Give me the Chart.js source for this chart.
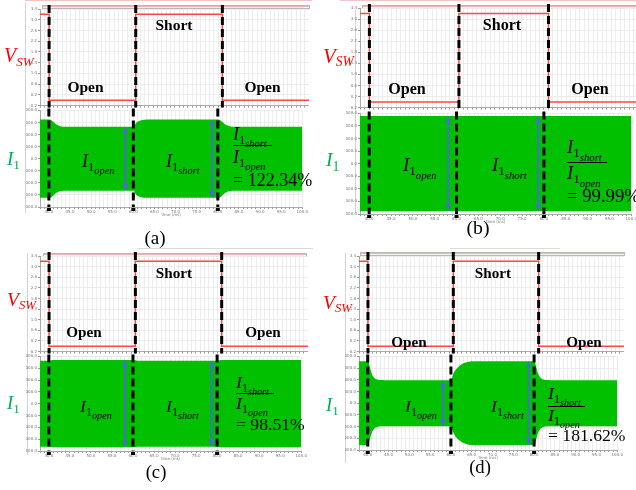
<!DOCTYPE html>
<html>
<head>
<meta charset="utf-8">
<script src="https://cdn.jsdelivr.net/npm/chart.js@4"></script>
<style>
  body { margin: 0; width: 636px; height: 490px; overflow: hidden; position: relative; background: #fff; }
  canvas { position: absolute; }
  .txt { position: absolute; white-space: nowrap; line-height: 1; font-family: 'Liberation Serif', 'Times New Roman', serif; }
  .lbl { font-weight: bold; transform: translateX(-50%); }
  .s1 { position: relative; font-size: 70%; top: 0.3em; font-style: normal; }
  .s2 { position: relative; font-size: 82%; top: 0.32em; font-style: italic; }
  .bar { position: absolute; height: 1.3px; background: #000; }
  .strip { position: absolute; height: 2px; border: 1px solid #b9b9b9; background: #f3f3f3; }
  .strip i { position: absolute; left: 0; right: 0; top: 0; height: 1px; background: #f2b3b3; }
  .frame { position: absolute; width: 1px; background: #d2d2d2; }
</style>
</head>
<body>
<script>
// switching instants (ms) and where the blue swing arrows sit
const switchTimes = [40, 60, 80];
const arrowTimes = [58.1, 78.7];

// switch drive V_SW (V), same for all four cases
const vswTime = [37.9, 40, 40, 60, 60, 80, 80, 100];
const vswLevel = [3.2, 3.2, 0, 0, 3.2, 3.2, 0, 0];

// I1 envelope, upper edge (mA); the current swings symmetrically about zero
const timeA = [37.9, 40.2, 40.9, 41.7, 42.6, 43.5, 44.5, 60.1, 60.5, 61.0, 61.7, 62.6, 63.6, 80.2, 80.9, 81.7, 82.6, 83.5, 84.5, 100];
const ampA  = [3242, 3242, 3100, 2850, 2700, 2655, 2650, 2650, 2900, 3060, 3170, 3225, 3242, 3242, 3100, 2850, 2700, 2655, 2650, 2650];
const timeB = [37.9, 40, 60, 80, 100];
const ampB  = [3790, 3790, 3790, 3790, 3790];
const timeC = [37.9, 40.2, 41, 60.2, 61, 80.2, 81, 100];
const ampC  = [3635, 3635, 3690, 3690, 3635, 3635, 3690, 3690];
const timeD = [37.9, 40.1, 40.5, 41.0, 41.5, 42.2, 43.0, 44.0, 60.1, 60.5, 61.0, 61.6, 62.4, 63.3, 64.3, 65.5, 80.1, 80.5, 81.0, 81.5, 82.2, 83.0, 84.0, 100];
const ampD  = [3578, 3578, 3100, 2500, 2200, 2030, 1975, 1970, 1970, 2450, 2800, 3030, 3280, 3450, 3550, 3578, 3578, 3100, 2500, 2200, 2030, 1975, 1970, 1970];

// steady swing in the open and short states, and the printed ratio
const openAmp  = [2650, 3790, 3690, 1970];
const shortAmp = [3242, 3790, 3635, 3578];
const ratioLabels = ['122.34%', '99.99%', '98.51%', '181.62%'];
const caseTags = ['(a)', '(b)', '(c)', '(d)'];

const envTimes = [timeA, timeB, timeC, timeD];
const envAmps = [ampA, ampB, ampC, ampD];

// page placement of each case (plot rectangles and text anchors)
const panels = [
  { left: 39.9, width: 268.6, vTop: 8.5, vBot: 107, iTop: 109, iBot: 207, s: 1,
    strip: [42, 5, 266], frame: [25, 3, 210], tag: [155, 244],
    short: [174, 30], open: [[85.5, 92], [262.5, 92]], vsw: [4, 62], i1: [7, 165],
    iOpen: [82, 167], iShort: [166, 167], frac: { x: 233, num: 140, bar: 145, w: 39, den: 163, eq: 186 } },
  { left: 360, width: 277.9, vTop: 7.6, vBot: 110, iTop: 112, iBot: 213.7, s: 1.04,
    strip: [362, 4.5, 280], frame: [355, 10, 203], tag: [478, 235],
    short: [502, 31], open: [[407, 95], [590, 95]], vsw: [323, 63], i1: [326, 167],
    iOpen: [403, 172], iShort: [492, 172], frac: { x: 567, num: 154, bar: 161.5, w: 40, den: 180, eq: 203 } },
  { left: 40.25, width: 267.7, vTop: 255.6, vBot: 353.1, iTop: 355, iBot: 450.7, s: 0.98,
    strip: [43, 252.5, 262], frame: [27, 253, 202], tag: [156, 479],
    short: [174, 278], open: [[84, 337], [263, 337]], vsw: [7, 306], i1: [7, 410],
    iOpen: [80, 413], iShort: [166, 413], frac: { x: 236, num: 389, bar: 393, w: 38, den: 410, eq: 431 } },
  { left: 358.7, width: 264.9, vTop: 255.6, vBot: 353.1, iTop: 355, iBot: 450, s: 0.98,
    strip: [360, 252, 263], frame: [345, 253, 210], tag: [480, 474],
    short: [493, 278], open: [[409, 347], [584, 347]], vsw: [323, 309], i1: [326, 412],
    iOpen: [405, 413], iShort: [491, 413], frac: { x: 548, num: 400, bar: 406, w: 37, den: 422, eq: 442 } }
];

const Y_AXIS_W = 14;

function addCanvas(left, top, w, h) {
  const c = document.createElement('canvas');
  w = Math.round(w); h = Math.round(h);
  c.width = w; c.height = h;
  c.style.cssText = `left:${left}px;top:${top}px;width:${w}px;height:${h}px`;
  document.body.appendChild(c);
  return c;
}

function addDiv(cls, css, html) {
  const d = document.createElement('div');
  d.className = cls;
  d.style.cssText = css;
  if (html) d.innerHTML = html;
  document.body.appendChild(d);
  return d;
}

// text placed by its baseline (line-height 1 in Liberation Serif)
function text(html, x, base, size, extra) {
  return addDiv('txt ' + (extra || ''), `left:${x}px;top:${base - 0.8375 * size}px;font-size:${size}px`, html);
}

function iSub(sub) {
  return `<i>I</i><span class="s1">1<span class="s2">${sub}</span></span>`;
}

// dashed switching markers, plus the blue double arrows on the current plot
function switchMarks(above, below, foot, arrows) {
  return {
    id: 'switchMarks',
    afterDatasetsDraw(chart) {
      const { ctx, chartArea: area, scales: { x, y } } = chart;
      ctx.save();
      ctx.strokeStyle = '#000';
      ctx.lineWidth = 3;
      ctx.setLineDash([8, 4]);
      for (const t of switchTimes) {
        const px = x.getPixelForValue(t);
        ctx.beginPath();
        ctx.moveTo(px, area.top - above);
        ctx.lineTo(px, area.bottom + below);
        ctx.stroke();
        if (foot) {
          ctx.fillStyle = '#000';
          ctx.fillRect(px - 2, area.bottom + 1, 4, 3);
        }
      }
      ctx.setLineDash([]);
      ctx.strokeStyle = ctx.fillStyle = '#4472c4';
      ctx.lineWidth = 2;
      for (const [t, amp] of arrows) {
        const px = x.getPixelForValue(t);
        const y0 = y.getPixelForValue(amp), y1 = y.getPixelForValue(-amp);
        ctx.beginPath();
        ctx.moveTo(px, y0 + 5);
        ctx.lineTo(px, y1 - 5);
        ctx.stroke();
        ctx.beginPath();
        ctx.moveTo(px, y0); ctx.lineTo(px - 3.2, y0 + 6.5); ctx.lineTo(px + 3.2, y0 + 6.5); ctx.closePath();
        ctx.moveTo(px, y1); ctx.lineTo(px - 3.2, y1 - 6.5); ctx.lineTo(px + 3.2, y1 - 6.5); ctx.closePath();
        ctx.fill();
      }
      ctx.restore();
    }
  };
}

function scales(yMin, yMax, yStep, showX) {
  const tickFont = { size: 4, family: 'DejaVu Sans' };
  return {
    x: {
      type: 'linear', min: 37.9, max: 100,
      grid: { color: '#ececec', tickLength: 2, tickColor: '#999' },
      border: { color: '#aaa' },
      ticks: {
        display: showX, stepSize: 1, autoSkip: false, maxRotation: 0, includeBounds: false,
        font: tickFont, color: '#777', padding: 1,
        callback: v => Math.abs(v % 5) < 1e-6 ? v.toFixed(1) : ''
      },
      title: { display: showX, text: 'time (ms)', font: tickFont, color: '#777', padding: 0 },
      afterFit: s => { s.height = showX ? 10 : 1; }
    },
    y: {
      min: yMin, max: yMax,
      grid: { color: '#ececec', tickLength: 2, tickColor: '#999' },
      border: { color: '#aaa' },
      ticks: { stepSize: yStep, font: tickFont, color: '#777', padding: 1, callback: v => v.toFixed(1) },
      afterFit: s => { s.width = Y_AXIS_W; }
    }
  };
}

const common = {
  responsive: false, animation: false, devicePixelRatio: 1,
  plugins: { legend: { display: false }, tooltip: { enabled: false } }
};

panels.forEach((p, k) => {
  // window decorations of the simulator screenshot
  addDiv('frame', `left:${p.frame[0]}px;top:${p.frame[1]}px;height:${p.frame[2]}px`);
  addDiv('strip', `left:${p.strip[0]}px;top:${p.strip[1]}px;width:${p.strip[2]}px`, '<i></i>');

  // V_SW trace
  const vPad = 5;
  const cv = addCanvas(p.left - Y_AXIS_W, p.vTop - vPad, Y_AXIS_W + p.width, vPad + (p.vBot - p.vTop) + 1);
  new Chart(cv, {
    type: 'line',
    data: {
      datasets: [{
        data: vswTime.map((t, i) => ({ x: t, y: vswLevel[i] })),
        borderColor: '#ff4646', borderWidth: 1.5, pointRadius: 0, tension: 0
      }]
    },
    options: { ...common, layout: { padding: { top: vPad, right: 0, left: 0, bottom: 0 } }, scales: scales(-0.2, 3.4, 0.2, false) },
    plugins: [switchMarks(4, 2, false, [])]
  });

  // I1 envelope
  const iPad = 2;
  const ci = addCanvas(p.left - Y_AXIS_W, p.iTop - iPad, Y_AXIS_W + p.width, iPad + (p.iBot - p.iTop) + 10);
  const upper = envTimes[k].map((t, i) => ({ x: t, y: envAmps[k][i] }));
  const lower = envTimes[k].map((t, i) => ({ x: t, y: -envAmps[k][i] }));
  new Chart(ci, {
    type: 'line',
    data: {
      datasets: [
        { data: upper, borderWidth: 0, pointRadius: 0, fill: false, cubicInterpolationMode: 'monotone' },
        { data: lower, borderWidth: 0, pointRadius: 0, fill: '-1', backgroundColor: '#00c000', cubicInterpolationMode: 'monotone' }
      ]
    },
    options: { ...common, layout: { padding: { top: iPad, right: 0, left: 0, bottom: 0 } }, scales: scales(-4000, 4000, 500, true) },
    plugins: [switchMarks(iPad, 0, true, [[arrowTimes[0], openAmp[k]], [arrowTimes[1], shortAmp[k]]])]
  });

  // labels
  const s = p.s;
  text('Short', p.short[0], p.short[1], 15.5 * s, 'lbl');
  p.open.forEach(([x, y]) => text('Open', x, y, 15.5 * s, 'lbl'));
  text('<i>V</i><span class="s1" style="font-size:65%;top:0.25em"><i>SW</i></span>', p.vsw[0], p.vsw[1], 20 * s).style.color = '#ff0000';
  text('<i>I</i><span class="s1">1</span>', p.i1[0], p.i1[1], 19 * s).style.color = '#00b050';
  text(iSub('open'), p.iOpen[0], p.iOpen[1], 18 * s);
  text(iSub('short'), p.iShort[0], p.iShort[1], 18 * s);
  const f = p.frac;
  text(iSub('short'), f.x, f.num, 18 * s);
  addDiv('bar', `left:${f.x}px;top:${f.bar}px;width:${f.w}px`);
  text(iSub('open'), f.x, f.den, 18 * s);
  text('= ' + ratioLabels[k], f.x, f.eq, 18 * s);
  text(caseTags[k], p.tag[0], p.tag[1], 19 * s, 'lbl').style.fontWeight = 'normal';
});

// thin window edges between the screenshots
addDiv('frame', 'left:25px;top:0;width:287px;height:1px;background:#f3c4c4');
addDiv('frame', 'left:340px;top:0;width:296px;height:1px;background:#f3c4c4');
addDiv('frame', 'left:137px;top:248px;width:176px;height:1px;background:#dadada');
addDiv('frame', 'left:450px;top:248px;width:110px;height:1px;background:#dadada');
</script>
</body>
</html>
